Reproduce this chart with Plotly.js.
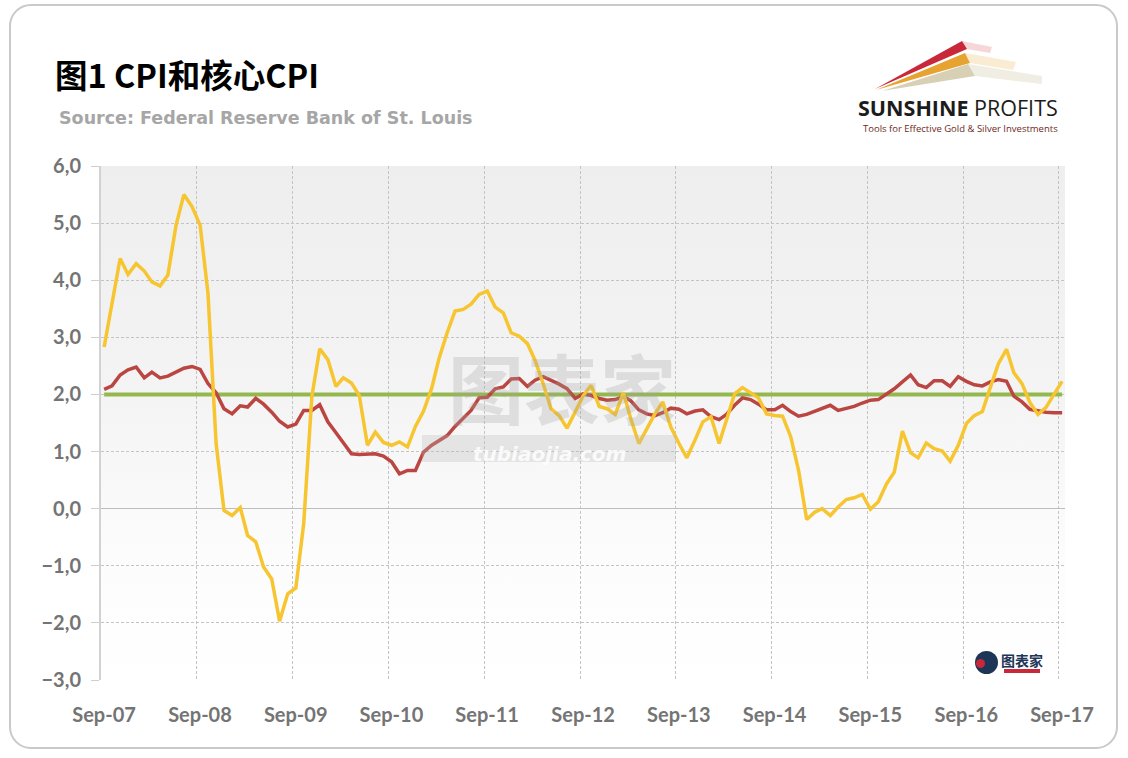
<!DOCTYPE html>
<html>
<head>
<meta charset="utf-8">
<script src="https://cdn.plot.ly/plotly-3.0.1.min.js"></script>
<style>
  html, body { margin: 0; padding: 0; background: #ffffff; }
  #frame { position: absolute; left: 9px; top: 4px; width: 1105px; height: 741px;
           border: 2px solid #c9c9c9; border-radius: 22px; background: #ffffff; }
  #plotbg { position: absolute; left: 101px; top: 166px; width: 964px; height: 514px;
            background: linear-gradient(to bottom, #eeeeee 0%, #f4f4f4 45%, #fcfcfc 75%, #ffffff 100%); }
  #chart { position: absolute; left: 0; top: 0; width: 1128px; height: 758px; }
</style>
</head>
<body>
<div id="frame"></div>
<div id="plotbg"></div>
<div id="chart"></div>
<script>
// ---- data (monthly, Sep-2007 .. Sep-2017), % y/y ----
const startYear = 2007;
const startMonth = 9;
const cpi = [
  2.83, 3.60, 4.38, 4.10, 4.29, 4.16, 3.97, 3.90, 4.09, 4.96, 5.50, 5.29,
  4.96, 3.77, 1.14, -0.03, -0.12, 0.02, -0.47, -0.58, -1.02, -1.23, -1.97, -1.49,
  -1.39, -0.26, 1.96, 2.80, 2.61, 2.14, 2.29, 2.20, 1.98, 1.11, 1.34, 1.16,
  1.11, 1.17, 1.08, 1.44, 1.71, 2.11, 2.63, 3.08, 3.46, 3.49, 3.58, 3.75,
  3.81, 3.53, 3.43, 3.08, 3.02, 2.89, 2.60, 2.19, 1.75, 1.63, 1.41, 1.69,
  1.98, 2.16, 1.79, 1.75, 1.65, 2.03, 1.58, 1.14, 1.40, 1.66, 1.87, 1.43,
  1.14, 0.89, 1.20, 1.52, 1.61, 1.14, 1.55, 2.01, 2.12, 2.03, 1.94, 1.66,
  1.63, 1.62, 1.26, 0.67, -0.19, -0.06, 0.00, -0.12, 0.03, 0.16, 0.19, 0.25,
  -0.01, 0.12, 0.43, 0.64, 1.36, 0.98, 0.89, 1.15, 1.05, 1.01, 0.83, 1.11,
  1.49, 1.63, 1.70, 2.12, 2.54, 2.79, 2.38, 2.19, 1.86, 1.65, 1.77, 2.00,
  2.23
];
const coreCpi = [
  2.09, 2.15, 2.34, 2.43, 2.48, 2.29, 2.39, 2.29, 2.32, 2.39, 2.46, 2.49,
  2.44, 2.19, 2.03, 1.75, 1.66, 1.80, 1.78, 1.93, 1.83, 1.69, 1.53, 1.43,
  1.48, 1.72, 1.72, 1.82, 1.52, 1.33, 1.15, 0.96, 0.95, 0.95, 0.96, 0.92,
  0.82, 0.61, 0.67, 0.67, 0.99, 1.11, 1.19, 1.28, 1.44, 1.58, 1.72, 1.94,
  1.95, 2.10, 2.13, 2.27, 2.28, 2.14, 2.25, 2.31, 2.25, 2.18, 2.10, 1.93,
  2.01, 1.98, 1.93, 1.90, 1.91, 1.96, 1.89, 1.73, 1.66, 1.63, 1.68, 1.76,
  1.74, 1.66, 1.71, 1.73, 1.61, 1.56, 1.65, 1.81, 1.94, 1.91, 1.83, 1.73,
  1.73, 1.81, 1.70, 1.62, 1.65, 1.70, 1.76, 1.81, 1.72, 1.75, 1.79, 1.85,
  1.90, 1.91, 2.01, 2.10, 2.22, 2.34, 2.17, 2.12, 2.24, 2.24, 2.14, 2.31,
  2.23, 2.17, 2.15, 2.22, 2.26, 2.23, 1.97, 1.87, 1.74, 1.71, 1.69, 1.68,
  1.68
];
const inflationTarget = 2.0;
const tickYears = [2007, 2008, 2009, 2010, 2011, 2012, 2013, 2014, 2015, 2016, 2017];
const tickLabels = ["Sep-07", "Sep-08", "Sep-09", "Sep-10", "Sep-11", "Sep-12",
                    "Sep-13", "Sep-14", "Sep-15", "Sep-16", "Sep-17"];

// ---- build month dates ----
function pad(n) { return (n < 10 ? "0" : "") + n; }
const dates = cpi.map((_, i) => {
  const m0 = startMonth - 1 + i;
  const y = startYear + Math.floor(m0 / 12);
  const m = (m0 % 12) + 1;
  return y + "-" + pad(m) + "-01";
});
const targetLine = dates.map(() => inflationTarget);

// ---- pixel -> paper helpers (plot area 101..1065 x 166..680) ----
const L = 101, R = 1065, T = 166, B = 680;
const px = x => (x - L) / (R - L);
const py = y => (B - y) / (B - T);
function pathOf(pts) {
  return "M " + pts.map(p => px(p[0]).toFixed(5) + "," + py(p[1]).toFixed(5)).join(" L ") + " Z";
}

const traces = [
  { x: dates, y: targetLine, type: "scatter", mode: "lines", name: "目标",
    line: { color: "#94b84e", width: 4 }, hoverinfo: "skip" },
  { x: dates, y: coreCpi, type: "scatter", mode: "lines", name: "核心CPI",
    line: { color: "#bb4641", width: 3.5 } },
  { x: dates, y: cpi, type: "scatter", mode: "lines", name: "CPI",
    line: { color: "#f6c530", width: 3.5 } }
];

const tickFont = { family: "Lato, 'Open Sans', sans-serif", size: 20, color: "#747474", weight: "bold" };

const shapes = [
  // logo streaks
  { type: "path", xref: "paper", yref: "paper", layer: "above", line: { width: 0 },
    fillcolor: "rgba(225,120,120,0.30)", path: pathOf([[962,41],[992,47],[990,53],[967,49]]) },
  { type: "path", xref: "paper", yref: "paper", layer: "above", line: { width: 0 },
    fillcolor: "rgba(240,190,110,0.30)", path: pathOf([[965,53],[1016,62],[1013,70],[970,63]]) },
  { type: "path", xref: "paper", yref: "paper", layer: "above", line: { width: 0 },
    fillcolor: "rgba(222,216,194,0.45)", path: pathOf([[968,64],[1042,76],[1042,84],[975,76]]) },
  { type: "path", xref: "paper", yref: "paper", layer: "above", line: { width: 0 },
    fillcolor: "#c9283a", path: pathOf([[875,89],[962,41],[967,49]]) },
  { type: "path", xref: "paper", yref: "paper", layer: "above", line: { width: 0 },
    fillcolor: "#e6a332", path: pathOf([[876,90],[965,53],[970,63]]) },
  { type: "path", xref: "paper", yref: "paper", layer: "above", line: { width: 0 },
    fillcolor: "#d8d0b5", path: pathOf([[882,91],[968,64],[975,76]]) },
  // watermark band
  { type: "rect", xref: "paper", yref: "paper", layer: "above", line: { width: 0 },
    fillcolor: "rgba(185,185,185,0.30)", x0: px(422), x1: px(676), y0: py(462), y1: py(435) },
  // small bottom-right logo
  { type: "circle", xref: "paper", yref: "paper", layer: "above", line: { width: 0 },
    fillcolor: "#1d3557", x0: px(975), x1: px(998), y0: py(674), y1: py(651) },
  { type: "circle", xref: "paper", yref: "paper", layer: "above", line: { width: 0 },
    fillcolor: "#c8283a", x0: px(976), x1: px(985), y0: py(668), y1: py(659) },
  { type: "rect", xref: "paper", yref: "paper", layer: "above", line: { width: 0 },
    fillcolor: "#c8283a", x0: px(1004), x1: px(1040), y0: py(673), y1: py(669) }
];

const annotations = [
  { text: "图1 CPI和核心CPI", xref: "paper", yref: "paper", x: px(53), y: py(74),
    xanchor: "left", yanchor: "middle", showarrow: false,
    font: { family: "'Noto Sans CJK SC', sans-serif", size: 32.5, color: "#000000", weight: "bold" } },
  { text: "Source: Federal Reserve Bank of St. Louis", xref: "paper", yref: "paper", x: px(57), y: py(118),
    xanchor: "left", yanchor: "middle", showarrow: false,
    font: { family: "'DejaVu Sans', sans-serif", size: 17.5, color: "#a6a6a6", weight: "bold" } },
  { text: "<b>SUNSHINE</b> PROFITS", xref: "paper", yref: "paper", x: px(856), y: py(108),
    xanchor: "left", yanchor: "middle", showarrow: false,
    font: { family: "'Open Sans', sans-serif", size: 21.5, color: "#1c1c1c" } },
  { text: "Tools for Effective Gold & Silver Investments", xref: "paper", yref: "paper", x: px(861), y: py(128.5),
    xanchor: "left", yanchor: "middle", showarrow: false,
    font: { family: "'Open Sans', sans-serif", size: 9.5, color: "#6e2a1c" } },
  // watermark
  { text: "图表家", xref: "paper", yref: "paper", x: px(562), y: py(386),
    xanchor: "center", yanchor: "middle", showarrow: false,
    font: { family: "'Noto Sans CJK SC', sans-serif", size: 76, color: "rgba(160,160,160,0.28)", weight: "bold" } },
  { text: "<i>tubiaojia.com</i>", xref: "paper", yref: "paper", x: px(549), y: py(454),
    xanchor: "center", yanchor: "middle", showarrow: false,
    font: { family: "'DejaVu Sans', sans-serif", size: 20, color: "rgba(255,255,255,0.85)", weight: "bold" } },
  { text: "图表家", xref: "paper", yref: "paper", x: px(1022), y: py(660),
    xanchor: "center", yanchor: "middle", showarrow: false,
    font: { family: "'Noto Sans CJK SC', sans-serif", size: 14, color: "#1d3557", weight: "bold" } }
];

const layout = {
  width: 1128, height: 758,
  margin: { l: L, r: 1128 - R, t: T, b: 758 - B, pad: 0 },
  paper_bgcolor: "rgba(0,0,0,0)",
  plot_bgcolor: "rgba(0,0,0,0)",
  showlegend: false,
  separators: ", ",
  xaxis: {
    type: "date",
    range: ["2007-08-20", "2017-09-12"],
    tickmode: "array",
    tickvals: tickYears.map(y => y + "-08-20"),
    ticktext: tickLabels,
    ticklabelshift: 3,
    showgrid: true, gridcolor: "#c4c4c4", gridwidth: 1, griddash: "3px,2px",
    zeroline: false, showline: false,
    ticks: "outside", ticklen: 17, tickcolor: "rgba(0,0,0,0)",
    tickfont: tickFont
  },
  yaxis: {
    range: [-3, 6],
    tickmode: "linear", tick0: 0, dtick: 1,
    tickformat: ".1f",
    showgrid: true, gridcolor: "#c4c4c4", gridwidth: 1, griddash: "3px,2px",
    zeroline: true, zerolinecolor: "#bdbdbd", zerolinewidth: 1.5,
    showline: true, linecolor: "#d2d2d2", linewidth: 2,
    ticks: "outside", ticklen: 8, tickcolor: "#cfcfcf", tickwidth: 1,
    ticklabelstandoff: 6,
    tickfont: tickFont
  },
  shapes: shapes,
  annotations: annotations
};

Plotly.newPlot("chart", traces, layout, { displayModeBar: false, staticPlot: true });
</script>
</body>
</html>
